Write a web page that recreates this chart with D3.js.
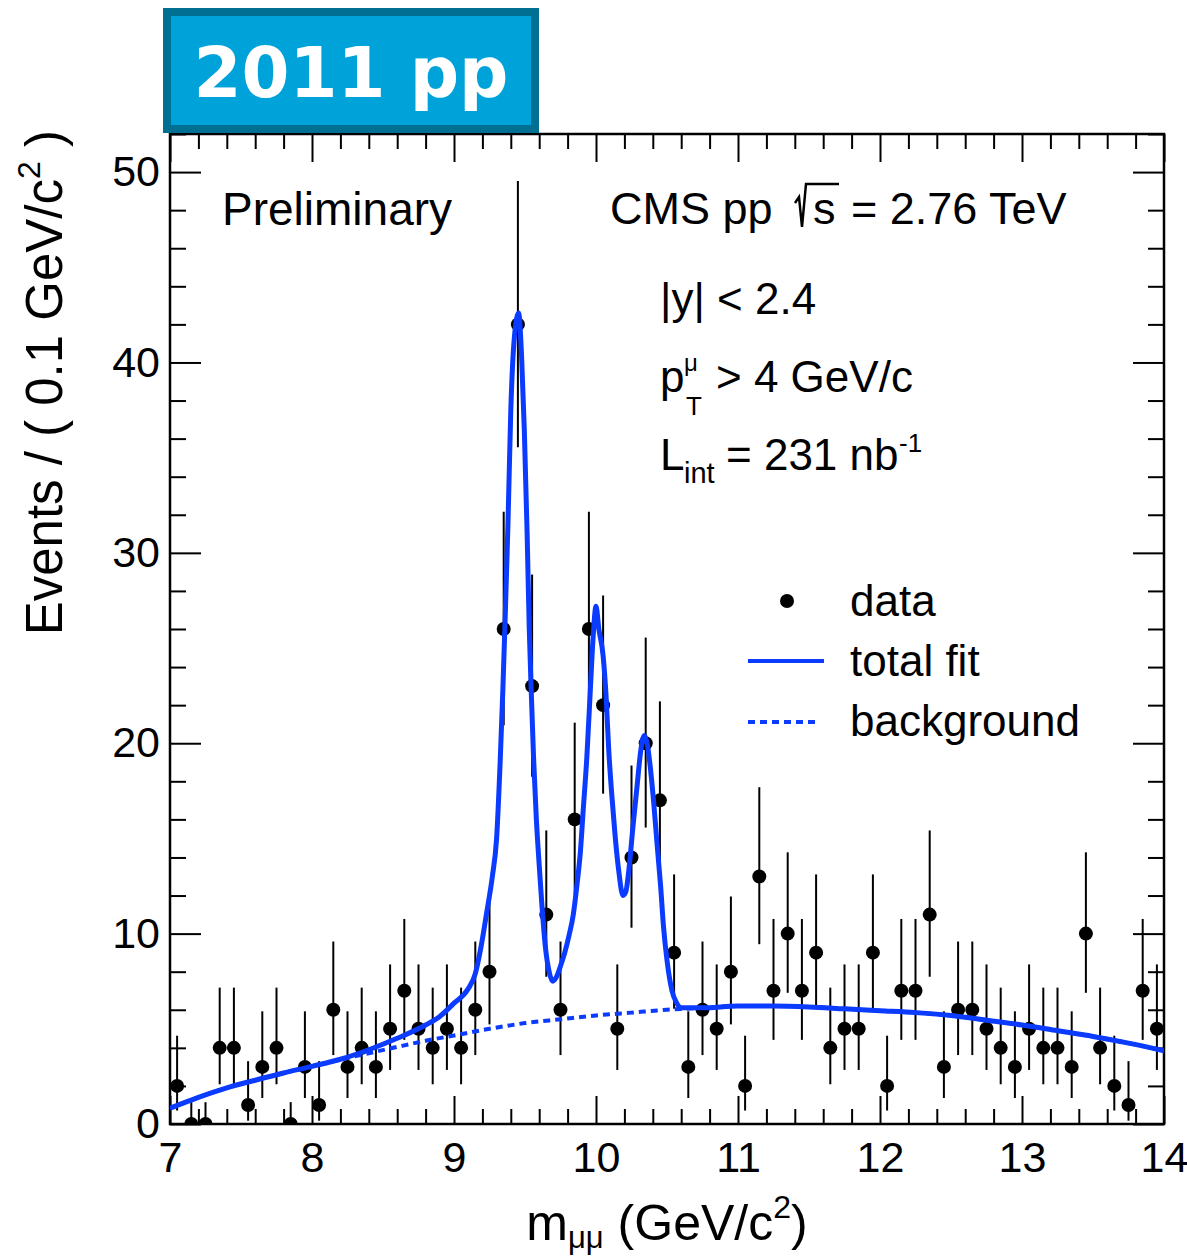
<!DOCTYPE html>
<html>
<head>
<meta charset="utf-8">
<script src="https://cdn.jsdelivr.net/npm/d3@7"></script>
<style>
  body { margin: 0; background: #fff; }
  svg { display: block; }
  text { font-family: "Liberation Sans", Arial, Helvetica, sans-serif; fill: #000; }
  text.badge { font-family: "DejaVu Sans", sans-serif; font-weight: bold; fill: #fff; }
</style>
</head>
<body>
<svg id="chart" width="1187" height="1259"></svg>
<script>
// Dimuon invariant mass spectrum, 0.1 GeV/c^2 bins
const massBinCenters = [
  7.05, 7.15, 7.25, 7.35, 7.45, 7.55, 7.65, 7.75, 7.85, 7.95,
  8.05, 8.15, 8.25, 8.35, 8.45, 8.55, 8.65, 8.75, 8.85, 8.95,
  9.05, 9.15, 9.25, 9.35, 9.45, 9.55, 9.65, 9.75, 9.85, 9.95,
  10.05, 10.15, 10.25, 10.35, 10.45, 10.55, 10.65, 10.75, 10.85, 10.95,
  11.05, 11.15, 11.25, 11.35, 11.45, 11.55, 11.65, 11.75, 11.85, 11.95,
  12.05, 12.15, 12.25, 12.35, 12.45, 12.55, 12.65, 12.75, 12.85, 12.95,
  13.05, 13.15, 13.25, 13.35, 13.45, 13.55, 13.65, 13.75, 13.85, 13.95
];
const eventCounts = [
  2, 0, 0, 4, 4, 1, 3, 4, 0, 3,
  1, 6, 3, 4, 3, 5, 7, 5, 4, 5,
  4, 6, 8, 26, 42, 23, 11, 6, 16, 26,
  22, 5, 14, 20, 17, 9, 3, 6, 5, 8,
  2, 13, 7, 10, 7, 9, 4, 5, 5, 9,
  2, 7, 7, 11, 3, 6, 6, 5, 4, 3,
  5, 4, 4, 3, 10, 4, 2, 1, 7, 5
];

// 68% Poisson confidence intervals per observed count
const intervalCounts = [0, 1, 2, 3, 4, 5, 6, 7, 8, 9, 10, 11, 13, 14, 16, 17, 20, 22, 23, 26, 42];
const intervalLow  = [0, 0.173, 0.708, 1.367, 2.086, 2.840, 3.620, 4.419, 5.232, 6.057, 6.891, 7.734, 9.445, 10.31, 12.05, 12.92, 15.57, 17.35, 18.24, 20.94, 35.55];
const intervalHigh = [1.148, 3.300, 4.638, 5.918, 7.163, 8.382, 9.584, 10.77, 11.95, 13.11, 14.27, 15.42, 17.69, 18.83, 21.08, 22.20, 25.55, 27.76, 28.86, 32.16, 49.53];

// Total fit (signal peaks + background)
const fitMass = [
  7.0, 7.2, 7.4, 7.6, 7.8, 8.0, 8.2, 8.4, 8.6, 8.8, 8.9, 9.0, 9.1, 9.15, 9.19, 9.23, 9.27, 9.30,
  9.325, 9.345, 9.36, 9.38, 9.40, 9.425, 9.455, 9.475, 9.495, 9.515, 9.53, 9.545, 9.56, 9.58,
  9.60, 9.62, 9.645, 9.67, 9.695, 9.72, 9.75, 9.78, 9.81, 9.84, 9.865, 9.89, 9.91, 9.935,
  9.96, 9.98, 10.0, 10.02, 10.05, 10.07, 10.09, 10.11, 10.135, 10.16, 10.19, 10.21, 10.235,
  10.26, 10.29, 10.315, 10.34, 10.36, 10.38, 10.405, 10.43, 10.455, 10.475, 10.50, 10.535,
  10.565, 10.6, 10.75, 11.0, 11.25, 11.5, 11.75, 12.0, 12.25, 12.5, 12.75, 13.0, 13.25,
  13.5, 13.75, 14.0
];
const fitTotal = [
  0.83, 1.4, 1.9, 2.3, 2.68, 3.03, 3.4, 3.9, 4.5, 5.2, 5.65, 6.35, 7.1, 7.9, 9.3, 11.1, 13.0, 15.0,
  19.0, 23.0, 26.5, 31.5, 37.5, 41.3, 42.6, 40.5, 36.5, 31.0, 26.0, 22.5, 19.3, 16.0,
  13.6, 11.4, 9.2, 8.0, 7.5, 7.7, 8.3, 9.0, 9.9, 11.0, 12.5, 14.3, 16.5, 19.2,
  22.8, 25.6, 27.2, 26.0, 24.6, 22.6, 19.6, 17.4, 15.1, 13.3, 12.0, 12.2, 13.6,
  15.6, 17.8, 19.6, 20.4, 20.0, 18.9, 17.0, 14.7, 12.5, 10.4, 8.6, 7.0,
  6.4, 6.1, 6.1, 6.2, 6.2, 6.15, 6.05, 5.95, 5.85, 5.7, 5.45, 5.2, 4.9,
  4.6, 4.25, 3.85
];

// Background component
const bgMass = [
  7.0, 7.2, 7.4, 7.6, 7.8, 8.0, 8.2, 8.4, 8.6, 8.8, 9.0, 9.25, 9.5, 9.75, 10.0, 10.25,
  10.5, 10.75, 11.0, 11.25, 11.5, 11.75, 12.0, 12.25, 12.5, 12.75, 13.0, 13.25, 13.5, 13.75, 14.0
];
const bgValues = [
  0.83, 1.4, 1.9, 2.3, 2.68, 3.03, 3.38, 3.72, 4.05, 4.37, 4.65, 5.0, 5.3, 5.5, 5.7, 5.85,
  6.0, 6.1, 6.2, 6.2, 6.15, 6.05, 5.95, 5.85, 5.7, 5.45, 5.2, 4.9, 4.6, 4.25, 3.85
];

const xTickLabels = [7, 8, 9, 10, 11, 12, 13, 14];
const yTickLabels = [0, 10, 20, 30, 40, 50];

const fitColor = "#0b3bff";
const svg = d3.select("#chart");

const plot = { left: 170, right: 1164, top: 134, bottom: 1124 };
const x = d3.scaleLinear().domain([7, 14]).range([plot.left, plot.right]);
const y = d3.scaleLinear().domain([0, 52]).range([plot.bottom, plot.top]);

const xMinor = d3.range(7, 14.001, 0.2).map(v => +v.toFixed(1)).filter(v => !xTickLabels.includes(v));
const yMinor = d3.range(0, 52.001, 2).filter(v => !yTickLabels.includes(v));

function styleAxis(g, labels) {
  g.select(".domain").remove();
  g.selectAll(".tick line").attr("stroke", "#000").attr("stroke-width", 2);
  g.attr("font-size", 43);
  g.selectAll(".tick text").attr("fill", "#000");
  if (!labels) g.selectAll(".tick text").remove();
}

// bottom axis
svg.append("g").attr("transform", `translate(0,${plot.bottom})`)
  .call(d3.axisBottom(x).tickValues(xMinor).tickSize(-15).tickFormat(""))
  .call(g => styleAxis(g, false));
svg.append("g").attr("transform", `translate(0,${plot.bottom})`)
  .call(d3.axisBottom(x).tickValues(xTickLabels).tickSize(-28).tickPadding(17).tickFormat(d3.format("d")))
  .call(g => styleAxis(g, true));
// top axis
svg.append("g").attr("transform", `translate(0,${plot.top})`)
  .call(d3.axisTop(x).tickValues(xMinor).tickSize(-15).tickFormat(""))
  .call(g => styleAxis(g, false));
svg.append("g").attr("transform", `translate(0,${plot.top})`)
  .call(d3.axisTop(x).tickValues(xTickLabels).tickSize(-28).tickFormat(""))
  .call(g => styleAxis(g, false));
// left axis
svg.append("g").attr("transform", `translate(${plot.left},0)`)
  .call(d3.axisLeft(y).tickValues(yMinor).tickSize(-16).tickFormat(""))
  .call(g => styleAxis(g, false));
svg.append("g").attr("transform", `translate(${plot.left},0)`)
  .call(d3.axisLeft(y).tickValues(yTickLabels).tickSize(-31).tickPadding(10).tickFormat(d3.format("d")))
  .call(g => styleAxis(g, true));
// right axis
svg.append("g").attr("transform", `translate(${plot.right},0)`)
  .call(d3.axisRight(y).tickValues(yMinor).tickSize(-16).tickFormat(""))
  .call(g => styleAxis(g, false));
svg.append("g").attr("transform", `translate(${plot.right},0)`)
  .call(d3.axisRight(y).tickValues(yTickLabels).tickSize(-31).tickFormat(""))
  .call(g => styleAxis(g, false));

// frame
svg.append("rect")
  .attr("x", plot.left).attr("y", plot.top)
  .attr("width", plot.right - plot.left).attr("height", plot.bottom - plot.top)
  .attr("fill", "none").attr("stroke", "#000").attr("stroke-width", 2.5);

svg.append("clipPath").attr("id", "plotClip")
  .append("rect").attr("x", plot.left).attr("y", plot.top)
  .attr("width", plot.right - plot.left).attr("height", plot.bottom - plot.top);

// data points with Poisson error bars
const points = massBinCenters.map((m, i) => {
  const n = eventCounts[i];
  const k = intervalCounts.indexOf(n);
  return { m, n, lo: intervalLow[k], hi: intervalHigh[k] };
});
const dataG = svg.append("g").attr("clip-path", "url(#plotClip)");
dataG.selectAll("line.err").data(points).join("line")
  .attr("class", "err")
  .attr("x1", d => x(d.m)).attr("x2", d => x(d.m))
  .attr("y1", d => y(d.lo)).attr("y2", d => y(d.hi))
  .attr("stroke", "#000").attr("stroke-width", 2);
dataG.selectAll("circle").data(points).join("circle")
  .attr("cx", d => x(d.m)).attr("cy", d => y(d.n)).attr("r", 7)
  .attr("fill", "#000");

// fit curves
const curveG = svg.append("g").attr("clip-path", "url(#plotClip)");
const lineGen = d3.line().x(d => x(d[0])).y(d => y(d[1])).curve(d3.curveMonotoneX);
curveG.append("path")
  .attr("d", lineGen(bgMass.map((m, i) => [m, bgValues[i]])))
  .attr("fill", "none").attr("stroke", fitColor).attr("stroke-width", 4)
  .attr("stroke-dasharray", "7,5");
curveG.append("path")
  .attr("d", lineGen(fitMass.map((m, i) => [m, fitTotal[i]])))
  .attr("fill", "none").attr("stroke", fitColor).attr("stroke-width", 5)
  .attr("stroke-linejoin", "round");

// annotations
function label(xp, yp, txt, size) {
  return svg.append("text").attr("x", xp).attr("y", yp).attr("font-size", size).text(txt);
}
label(222, 225, "Preliminary", 46);
label(610, 224, "CMS pp", 45);
svg.append("path")
  .attr("d", "M795,203 L799,197 L802,227 L806,184 L839,184")
  .attr("fill", "none").attr("stroke", "#000").attr("stroke-width", 2.5)
  .attr("stroke-linejoin", "miter");
label(813, 224, "s", 45);
label(851, 224, "= 2.76 TeV", 45);

label(660, 314, "|y| < 2.4", 44);

label(660, 392, "p", 44);
label(684, 371, "\u03bc", 24);
label(686, 415, "T", 26);
label(716, 392, "> 4 GeV/c", 44);

label(660, 470, "L", 44);
label(684, 483, "int", 29);
label(726, 470, "= 231 nb", 44);
label(899, 452, "-1", 26);

// legend
svg.append("circle").attr("cx", 787).attr("cy", 601).attr("r", 7).attr("fill", "#000");
label(850, 616, "data", 44);
svg.append("line").attr("x1", 748).attr("x2", 824).attr("y1", 661).attr("y2", 661)
  .attr("stroke", fitColor).attr("stroke-width", 4);
label(850, 676, "total fit", 44);
svg.append("line").attr("x1", 748).attr("x2", 820).attr("y1", 722).attr("y2", 722)
  .attr("stroke", fitColor).attr("stroke-width", 4).attr("stroke-dasharray", "7,5");
label(850, 736, "background", 44);

// axis titles
const xt = svg.append("text").attr("x", 667).attr("y", 1240)
  .attr("text-anchor", "middle").attr("font-size", 50);
xt.append("tspan").text("m");
xt.append("tspan").attr("font-size", 31).attr("dy", 8).text("\u03bc\u03bc");
xt.append("tspan").attr("dy", -8).text(" (GeV/c");
xt.append("tspan").attr("font-size", 32).attr("dy", -22).text("2");
xt.append("tspan").attr("dy", 22).text(")");

const yt = svg.append("text")
  .attr("transform", "translate(62,130) rotate(-90)")
  .attr("text-anchor", "end").attr("font-size", 51);
yt.append("tspan").text("Events / ( 0.1 GeV/c");
yt.append("tspan").attr("font-size", 32).attr("dy", -22).text("2");
yt.append("tspan").attr("dy", 22).text(" )");

// dataset badge
svg.append("rect")
  .attr("x", 167).attr("y", 12).attr("width", 368).attr("height", 117)
  .attr("fill", "#00a3d9").attr("stroke", "#006f91").attr("stroke-width", 8);
svg.append("text").attr("class", "badge")
  .attr("x", 351).attr("y", 97).attr("text-anchor", "middle")
  .attr("font-size", 69)
  .text("2011 pp");
</script>
</body>
</html>
